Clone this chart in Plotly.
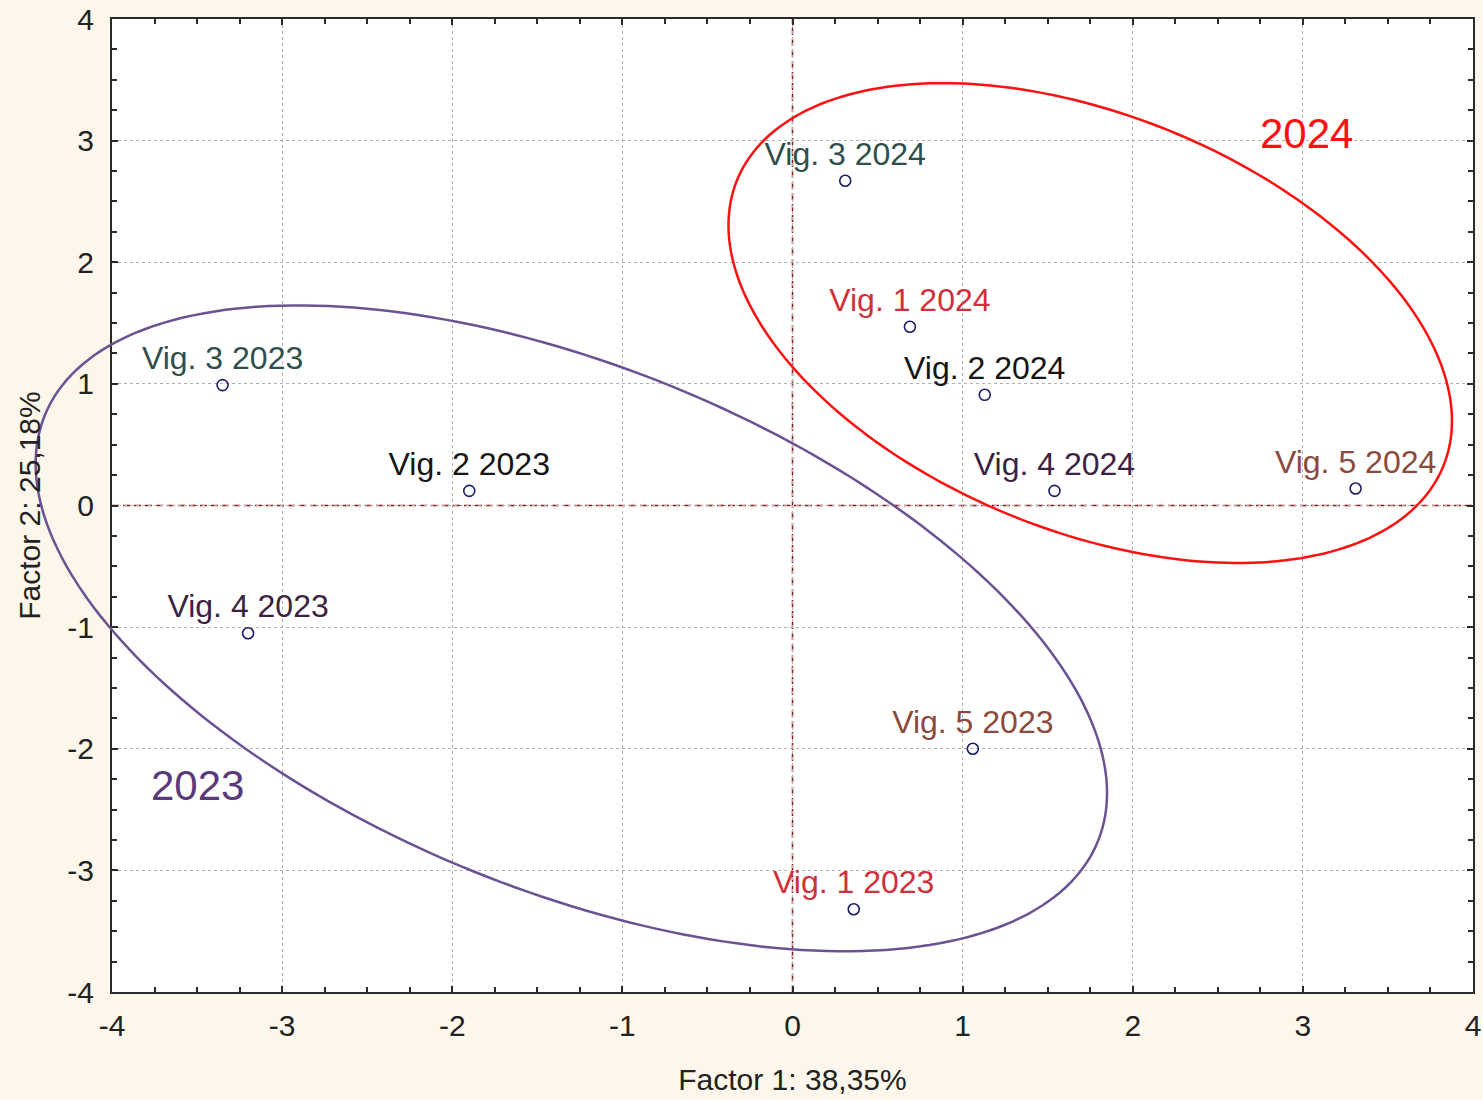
import numpy as np
import plotly.graph_objects as go

# Factor scores of the vineyard/year samples
labels = ["Vig. 1 2023", "Vig. 2 2023", "Vig. 3 2023", "Vig. 4 2023", "Vig. 5 2023",
          "Vig. 1 2024", "Vig. 2 2024", "Vig. 3 2024", "Vig. 4 2024", "Vig. 5 2024"]
factor1 = [0.36, -1.90, -3.35, -3.20, 1.06, 0.69, 1.13, 0.31, 1.54, 3.31]
factor2 = [-3.32, 0.12, 0.99, -1.05, -2.00, 1.47, 0.91, 2.67, 0.12, 0.14]

# label colour per vineyard
vineyard_colors = {"1": "#d0303c", "2": "#151515", "3": "#2f4f4c", "4": "#3b2243", "5": "#8a4a3c"}
label_colors = [vineyard_colors[s.split()[1]] for s in labels]

# axis ticks (plain hyphen minus signs)
tick_vals = [-4, -3, -2, -1, 0, 1, 2, 3, 4]
tick_text = ["-4", "-3", "-2", "-1", "0", "1", "2", "3", "4"]

# group ellipses: centre (factor units), semi-axes (px), tilt (deg, clockwise on screen)
groups = ["2024", "2023"]
ell_center_x = [1.75, -1.30]
ell_center_y = [1.50, -1.01]
ell_semi_major = [381, 568]
ell_semi_minor = [208, 262]
ell_tilt = [22.0, 22.0]
ell_colors = ["#ff1010", "#6c5293"]
caption_colors = ["#ff1010", "#5b3a7c"]

# group captions
caption_x = [3.02, -3.50]
caption_y = [3.06, -2.30]

W, H = 1483, 1100
ML, MR, MT, MB = 112, 10, 19, 108
XR, YR = [-4, 4], [-4, 4]
ux = (W - ML - MR) / (XR[1] - XR[0])
uy = (H - MT - MB) / (YR[1] - YR[0])

FONT = "Liberation Sans, Arial, sans-serif"

fig = go.Figure()

fig.add_trace(go.Scatter(
    x=factor1, y=factor2, mode="markers+text", text=labels,
    textposition="top center",
    textfont=dict(family=FONT, size=32, color=label_colors),
    marker=dict(symbol="circle-open", size=11, color="#1c1c6a", line=dict(width=1.6)),
    hoverinfo="skip", showlegend=False, cliponaxis=False,
))

shapes = []
# dashed reference lines through the origin
ref_line = dict(color="#8a1a1a", width=1.5, dash="7px,4px")
shapes.append(dict(type="line", xref="x", yref="y", x0=0, x1=0, y0=YR[0], y1=YR[1],
                   line=ref_line, layer="below"))
shapes.append(dict(type="line", xref="x", yref="y", x0=XR[0], x1=XR[1], y0=0, y1=0,
                   line=ref_line, layer="below"))

# ellipses drawn in paper coordinates so they may run past the plot frame
t = np.linspace(0, 2 * np.pi, 241)
for cx, cy, a, b, th, col in zip(ell_center_x, ell_center_y, ell_semi_major,
                                 ell_semi_minor, ell_tilt, ell_colors):
    r = np.deg2rad(th)
    dx = a * np.cos(t) * np.cos(r) - b * np.sin(t) * np.sin(r)
    dy = a * np.cos(t) * np.sin(r) + b * np.sin(t) * np.cos(r)
    xs = cx + dx / ux
    ys = cy - dy / uy
    px = (xs - XR[0]) / (XR[1] - XR[0])
    py = (ys - YR[0]) / (YR[1] - YR[0])
    path = "M " + " L ".join(f"{x:.5f},{y:.5f}" for x, y in zip(px, py)) + " Z"
    shapes.append(dict(type="path", xref="paper", yref="paper", path=path,
                       line=dict(color=col, width=2.5), layer="above"))

annotations = []
for g, x, y, col in zip(groups, caption_x, caption_y, caption_colors):
    annotations.append(dict(x=x, y=y, xref="x", yref="y", text=g, showarrow=False,
                            font=dict(family=FONT, size=42, color=col)))

axis_common = dict(
    tickmode="array", tickvals=tick_vals, ticktext=tick_text,
    showgrid=True, gridcolor="#b0b0b0", griddash="dot", gridwidth=1,
    zeroline=False, automargin=False,
    showline=True, linecolor="#2a2a2a", linewidth=2, mirror="ticks",
    ticks="inside", ticklen=6, tickwidth=2, tickcolor="#2a2a2a",
    minor=dict(dtick=0.25, tick0=0, ticks="inside", ticklen=5, tickwidth=2,
               tickcolor="#2a2a2a", showgrid=False),
    tickfont=dict(family=FONT, size=30, color="#222222"),
)

fig.update_layout(
    width=W, height=H,
    margin=dict(l=ML, r=MR, t=MT, b=MB),
    paper_bgcolor="#fcf7ea", plot_bgcolor="#ffffff",
    shapes=shapes, annotations=annotations,
    xaxis=dict(axis_common, range=XR, ticklabelstandoff=6,
               title=dict(text="Factor 1: 38,35%", standoff=28,
                          font=dict(family=FONT, size=30, color="#222222"))),
    yaxis=dict(axis_common, range=YR, ticklabelstandoff=10,
               title=dict(text="Factor 2: 25,18%", standoff=18,
                          font=dict(family=FONT, size=30, color="#222222"))),
)

fig.write_html("out.html")
